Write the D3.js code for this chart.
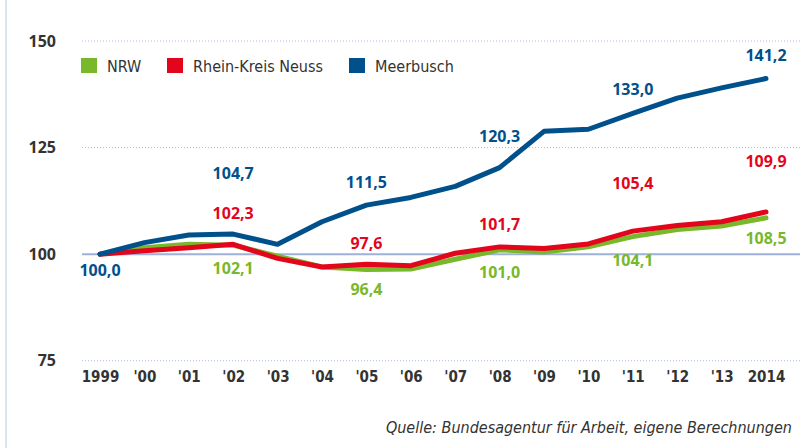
<!DOCTYPE html>
<html>
<head>
<meta charset="utf-8">
<script src="https://cdn.jsdelivr.net/npm/d3@7"></script>
<style>
  body { margin: 0; background: #fff; }
  svg { display: block; font-family: "Open Sans", sans-serif; }
</style>
</head>
<body>
<div id="chart"></div>
<script>
// values
var years = [1999, 2000, 2001, 2002, 2003, 2004, 2005, 2006, 2007, 2008, 2009, 2010, 2011, 2012, 2013, 2014];
var yearLabels = ["1999", "'00", "'01", "'02", "'03", "'04", "'05", "'06", "'07", "'08", "'09", "'10", "'11", "'12", "'13", "2014"];
var nrw      = [100.0, 101.5, 102.3, 102.1, 99.5, 97.0, 96.4, 96.5, 98.8, 101.0, 100.5, 101.7, 104.1, 105.8, 106.6, 108.5];
var neuss    = [100.0, 100.8, 101.5, 102.3, 99.0, 97.0, 97.6, 97.3, 100.2, 101.7, 101.3, 102.4, 105.4, 106.7, 107.6, 109.9];
var meerbusch = [100.0, 102.7, 104.5, 104.7, 102.3, 107.6, 111.5, 113.3, 115.9, 120.3, 128.8, 129.3, 133.0, 136.6, 139.0, 141.2];
var yTicks = [75, 100, 125, 150];
var seriesNames = ["NRW", "Rhein-Kreis Neuss", "Meerbusch"];
// which years get a value label, per series
var labelYears = {
    "NRW": [2002, 2005, 2008, 2011, 2014],
    "Rhein-Kreis Neuss": [2002, 2005, 2008, 2011, 2014],
    "Meerbusch": [1999, 2002, 2005, 2008, 2011, 2014]
};

var colors = { "NRW": "#78b82a", "Rhein-Kreis Neuss": "#e3051b", "Meerbusch": "#00508c" };
// vertical label offsets (px) relative to the point
var labelDy = {
    "NRW": [23, 20, 23, 24, 20],
    "Rhein-Kreis Neuss": [-31, -21, -22, -48, -51],
    "Meerbusch": [16, -61, -23, -31, -24, -23]
};

var width = 800, height = 448;
var svg = d3.select("#chart").append("svg")
    .attr("width", width)
    .attr("height", height);

var x = d3.scalePoint().domain(years).range([100, 766]);
var y = d3.scaleLinear().domain([75, 150]).range([360.7, 41]);

// left border
svg.append("line")
    .attr("x1", 6).attr("x2", 6).attr("y1", 0).attr("y2", height)
    .attr("stroke", "#dbe5f1").attr("stroke-width", 2);

// gridlines
yTicks.forEach(function(t) {
    if (t === 100) return;
    svg.append("line")
        .attr("x1", 82).attr("x2", width)
        .attr("y1", y(t)).attr("y2", y(t))
        .attr("stroke", "#a9bde0")
        .attr("stroke-width", 1)
        .attr("stroke-dasharray", "1,2");
});
svg.append("line")
    .attr("x1", 82).attr("x2", width)
    .attr("y1", y(100)).attr("y2", y(100))
    .attr("stroke", "#9db1da")
    .attr("stroke-width", 2);

// Y axis
var yAxis = svg.append("g")
    .attr("transform", "translate(56,0)")
    .call(d3.axisLeft(y).tickValues(yTicks).tickSize(0).tickPadding(0));
yAxis.select(".domain").remove();
yAxis.selectAll("text")
    .style("font-family", "'Open Sans', sans-serif")
    .style("font-weight", "bold")
    .style("font-size", "16px")
    .attr("fill", "#333");

// X axis
var xAxis = svg.append("g")
    .attr("transform", "translate(0,371)")
    .call(d3.axisBottom(x).tickSize(0).tickPadding(0).tickFormat(function(d, i) { return yearLabels[i]; }));
xAxis.select(".domain").remove();
xAxis.selectAll("text")
    .style("font-family", "'DejaVu Sans Condensed', 'DejaVu Sans', sans-serif")
    .style("font-stretch", "condensed")
    .style("font-weight", "bold")
    .style("font-size", "15px")
    .attr("fill", "#333");

var data = [
    { name: "NRW", values: nrw },
    { name: "Rhein-Kreis Neuss", values: neuss },
    { name: "Meerbusch", values: meerbusch }
];

var valueline = d3.line()
    .x(function(d, i) { return x(years[i]); })
    .y(function(d) { return y(d); });

data.forEach(function(s) {
    svg.append("path")
        .datum(s.values)
        .attr("fill", "none")
        .attr("stroke", colors[s.name])
        .attr("stroke-width", 5)
        .attr("stroke-linejoin", "round")
        .attr("stroke-linecap", "round")
        .attr("d", valueline);
});

// value labels
var fmt = function(v) { return v.toFixed(1).replace(".", ","); };
data.forEach(function(s) {
    labelYears[s.name].forEach(function(yr, k) {
        var i = years.indexOf(yr);
        svg.append("text")
            .attr("x", x(yr))
            .attr("y", y(s.values[i]) + labelDy[s.name][k])
            .attr("dy", "0.35em")
            .attr("text-anchor", "middle")
            .attr("fill", colors[s.name])
            .style("font-weight", "bold")
            .style("font-size", "16px")
            .text(fmt(s.values[i]));
    });
});

// legend
var legendX = [81, 167, 349];
seriesNames.forEach(function(n, i) {
    var g = svg.append("g").attr("transform", "translate(" + legendX[i] + ",58)");
    g.append("rect").attr("width", 16).attr("height", 15).attr("fill", colors[n]);
    g.append("text")
        .attr("x", 26).attr("y", 8).attr("dy", "0.35em")
        .attr("fill", "#333")
        .style("font-family", "'DejaVu Sans Condensed', 'DejaVu Sans', sans-serif")
        .style("font-stretch", "condensed")
        .style("font-size", "16px")
        .text(n);
});

// source
svg.append("text")
    .attr("x", 792).attr("y", 427).attr("dy", "0.35em")
    .attr("text-anchor", "end")
    .attr("fill", "#333")
    .style("font-family", "'DejaVu Sans Condensed', 'DejaVu Sans', sans-serif")
    .style("font-stretch", "condensed")
    .style("font-style", "italic")
    .style("font-size", "16px")
    .text("Quelle: Bundesagentur für Arbeit, eigene Berechnungen");
</script>
</body>
</html>
